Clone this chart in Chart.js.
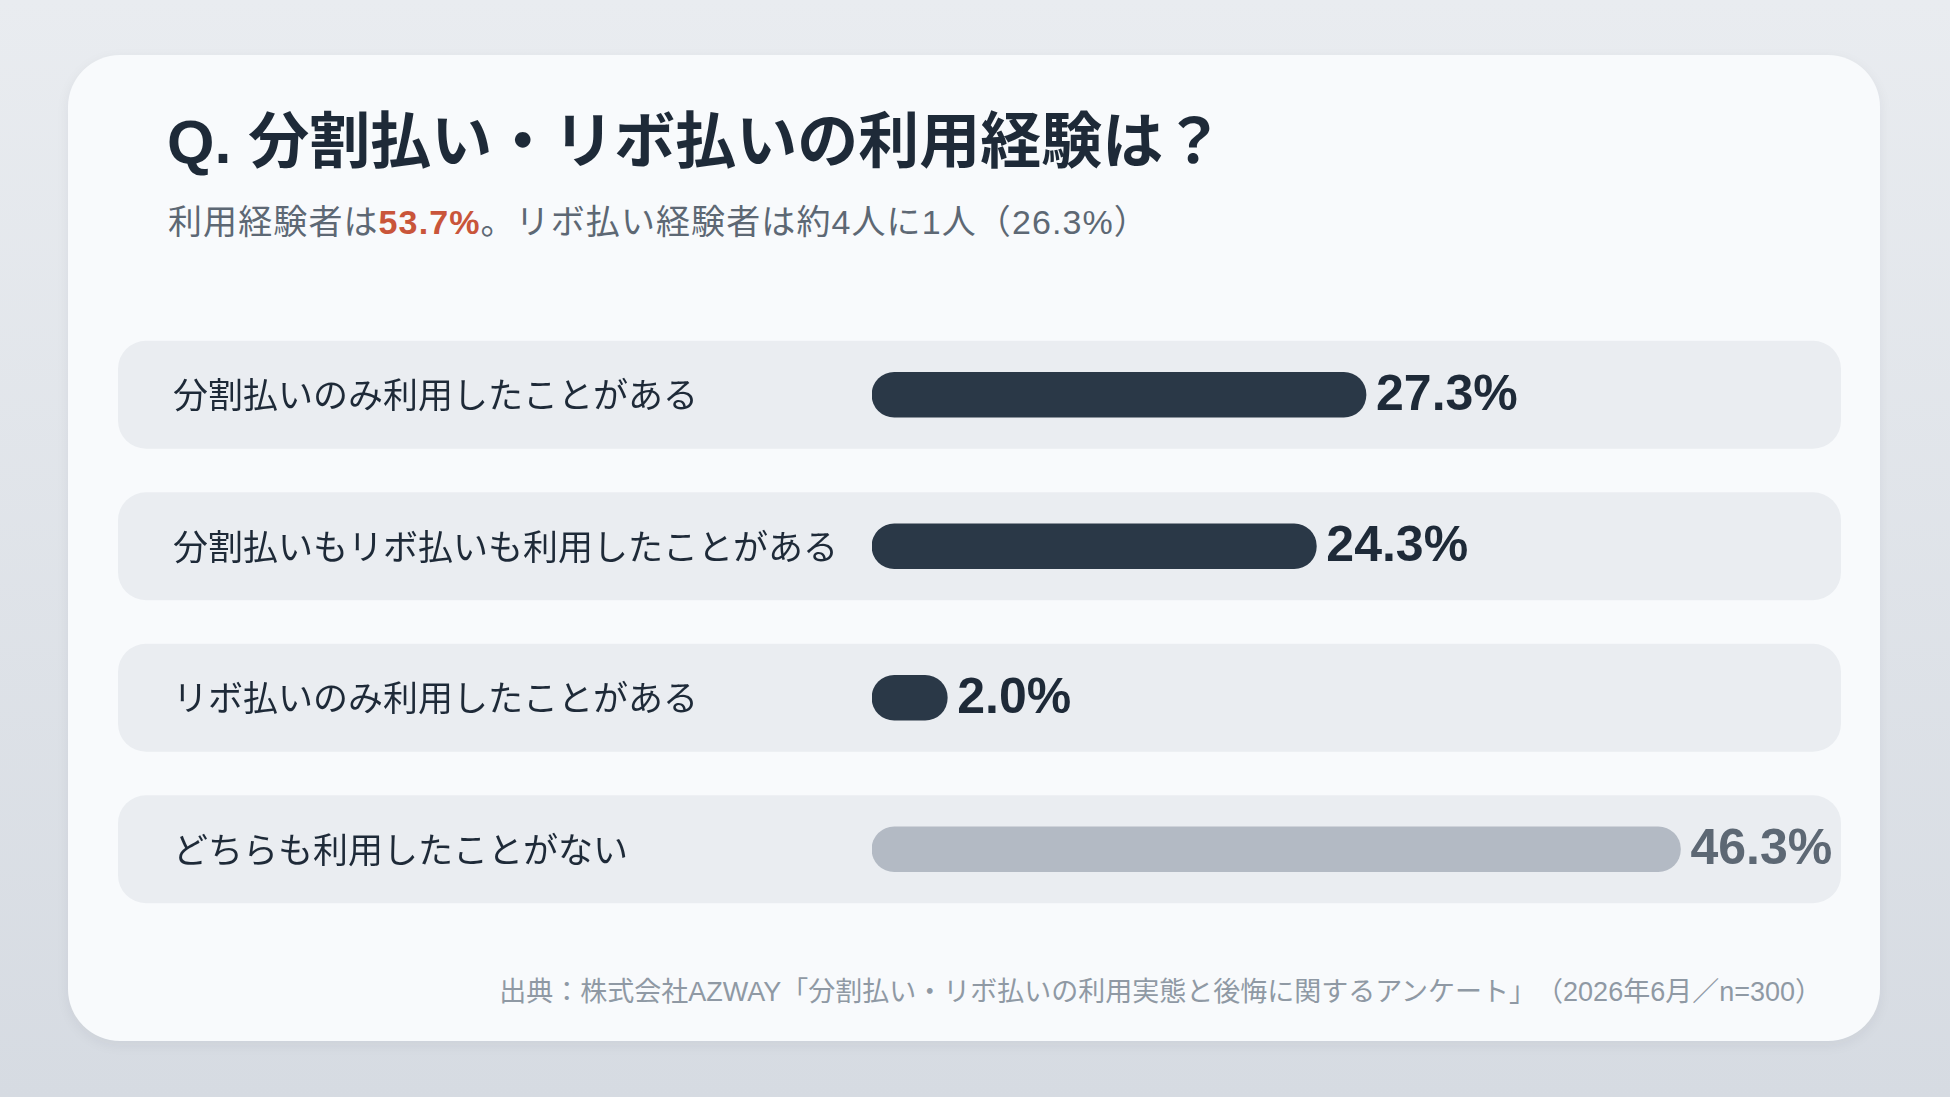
<!DOCTYPE html>
<html lang="ja">
<head>
<meta charset="utf-8">
<script src="https://cdn.jsdelivr.net/npm/chart.js@4.4.1/dist/chart.umd.min.js"></script>
<style>
  html, body { margin: 0; padding: 0; }
  body {
    width: 1950px; height: 1097px; overflow: hidden; position: relative;
    background: linear-gradient(180deg, #e9ecf0 0%, #d6dbe2 100%);
    font-family: "Liberation Sans", "Noto Sans CJK JP", sans-serif;
    text-spacing-trim: space-all;
  }
  .card {
    position: absolute; left: 68px; top: 55px; width: 1812px; height: 986px;
    background: #f8fafc; border-radius: 52px;
    box-shadow: 0 4px 14px rgba(30, 42, 56, 0.06);
  }
  h1 {
    position: absolute; left: 99px; top: 37px; margin: 0;
    font-size: 61px; font-weight: 700; color: #1e2a38; letter-spacing: 0;
    white-space: nowrap;
  }
  .sub {
    position: absolute; left: 100px; top: 140px; margin: 0;
    font-size: 34px; color: #5d6874; white-space: nowrap; letter-spacing: 1.1px;
  }
  .sub b { color: #c9553a; font-weight: 700; }
  .src {
    position: absolute; right: 58px; top: 915px;
    font-size: 27px; color: #8f99a4; white-space: nowrap;
  }
  #wrap { position: absolute; left: 50px; top: 243px; width: 1723px; height: 648px; }
</style>
</head>
<body>
<div class="card">
  <h1>Q. 分割払い・リボ払いの利用経験は？</h1>
  <p class="sub">利用経験者は<b>53.7%</b>。リボ払い経験者は約4人に1人（26.3%）</p>
  <div id="wrap"><canvas id="myChart" width="1723" height="648"></canvas></div>
  <div class="src">出典：株式会社AZWAY「分割払い・リボ払いの利用実態と後悔に関するアンケート」（2026年6月／n=300）</div>
</div>
<script>
var labels = ["分割払いのみ利用したことがある", "分割払いもリボ払いも利用したことがある", "リボ払いのみ利用したことがある", "どちらも利用したことがない"]
var values = [27.3, 24.3, 2.0, 46.3]
var barColors = ["#2a3847", "#2a3847", "#2a3847", "#b3bac4"]
var labelColors = ["#1e2a38", "#1e2a38", "#1e2a38", "#5d6874"]

// rounded bars start a little left of zero, so the scale starts there too
var axisMin = -2.55
var axisMax = 56

function roundRect(ctx, x, y, w, h, r) {
    ctx.beginPath()
    ctx.moveTo(x + r, y)
    ctx.lineTo(x + w - r, y)
    ctx.arcTo(x + w, y, x + w, y + r, r)
    ctx.lineTo(x + w, y + h - r)
    ctx.arcTo(x + w, y + h, x + w - r, y + h, r)
    ctx.lineTo(x + r, y + h)
    ctx.arcTo(x, y + h, x, y + h - r, r)
    ctx.lineTo(x, y + r)
    ctx.arcTo(x, y, x + r, y, r)
    ctx.closePath()
}

var rowBackground = {
    id: "rowBackground",
    beforeDraw: function(chart) {
        var ctx = chart.ctx
        var yScale = chart.scales.y
        ctx.save()
        ctx.fillStyle = "#eaedf1"
        labels.forEach(function(l, i) {
            var cy = yScale.getPixelForValue(i)
            roundRect(ctx, 0, cy - 54, chart.width, 108, 28)
            ctx.fill()
        })
        ctx.restore()
    }
}

var valueLabels = {
    id: "valueLabels",
    afterDatasetsDraw: function(chart) {
        var ctx = chart.ctx
        var meta = chart.getDatasetMeta(0)
        ctx.save()
        ctx.font = "bold 50px 'Liberation Sans', 'Noto Sans CJK JP', sans-serif"
        ctx.textBaseline = "middle"
        ctx.textAlign = "left"
        meta.data.forEach(function(bar, i) {
            ctx.fillStyle = labelColors[i]
            ctx.fillText(values[i].toFixed(1) + "%", bar.x + 10, bar.y + 1)
        })
        ctx.restore()
    }
}

var myChart = document.getElementById("myChart").getContext("2d")
var chart = new Chart(myChart, {
    type: "bar",
    data: {
        labels: labels,
        datasets: [{
            data: values,
            base: axisMin,
            backgroundColor: barColors,
            borderRadius: 23,
            borderSkipped: false,
            barThickness: 45
        }]
    },
    options: {
        indexAxis: "y",
        responsive: false,
        animation: false,
        events: [],
        layout: { padding: { left: 55, right: 0, top: 0, bottom: 0 } },
        plugins: { legend: { display: false }, tooltip: { enabled: false } },
        scales: {
            x: { display: false, min: axisMin, max: axisMax },
            y: {
                grid: { display: false },
                border: { display: false },
                afterFit: function(scale) { scale.width = 754 - 55 },
                ticks: {
                    crossAlign: "far",
                    padding: 0,
                    color: "#1e2a38",
                    font: { family: "'Noto Sans CJK JP', sans-serif", size: 35 }
                }
            }
        }
    },
    plugins: [rowBackground, valueLabels]
})
</script>
</body>
</html>
